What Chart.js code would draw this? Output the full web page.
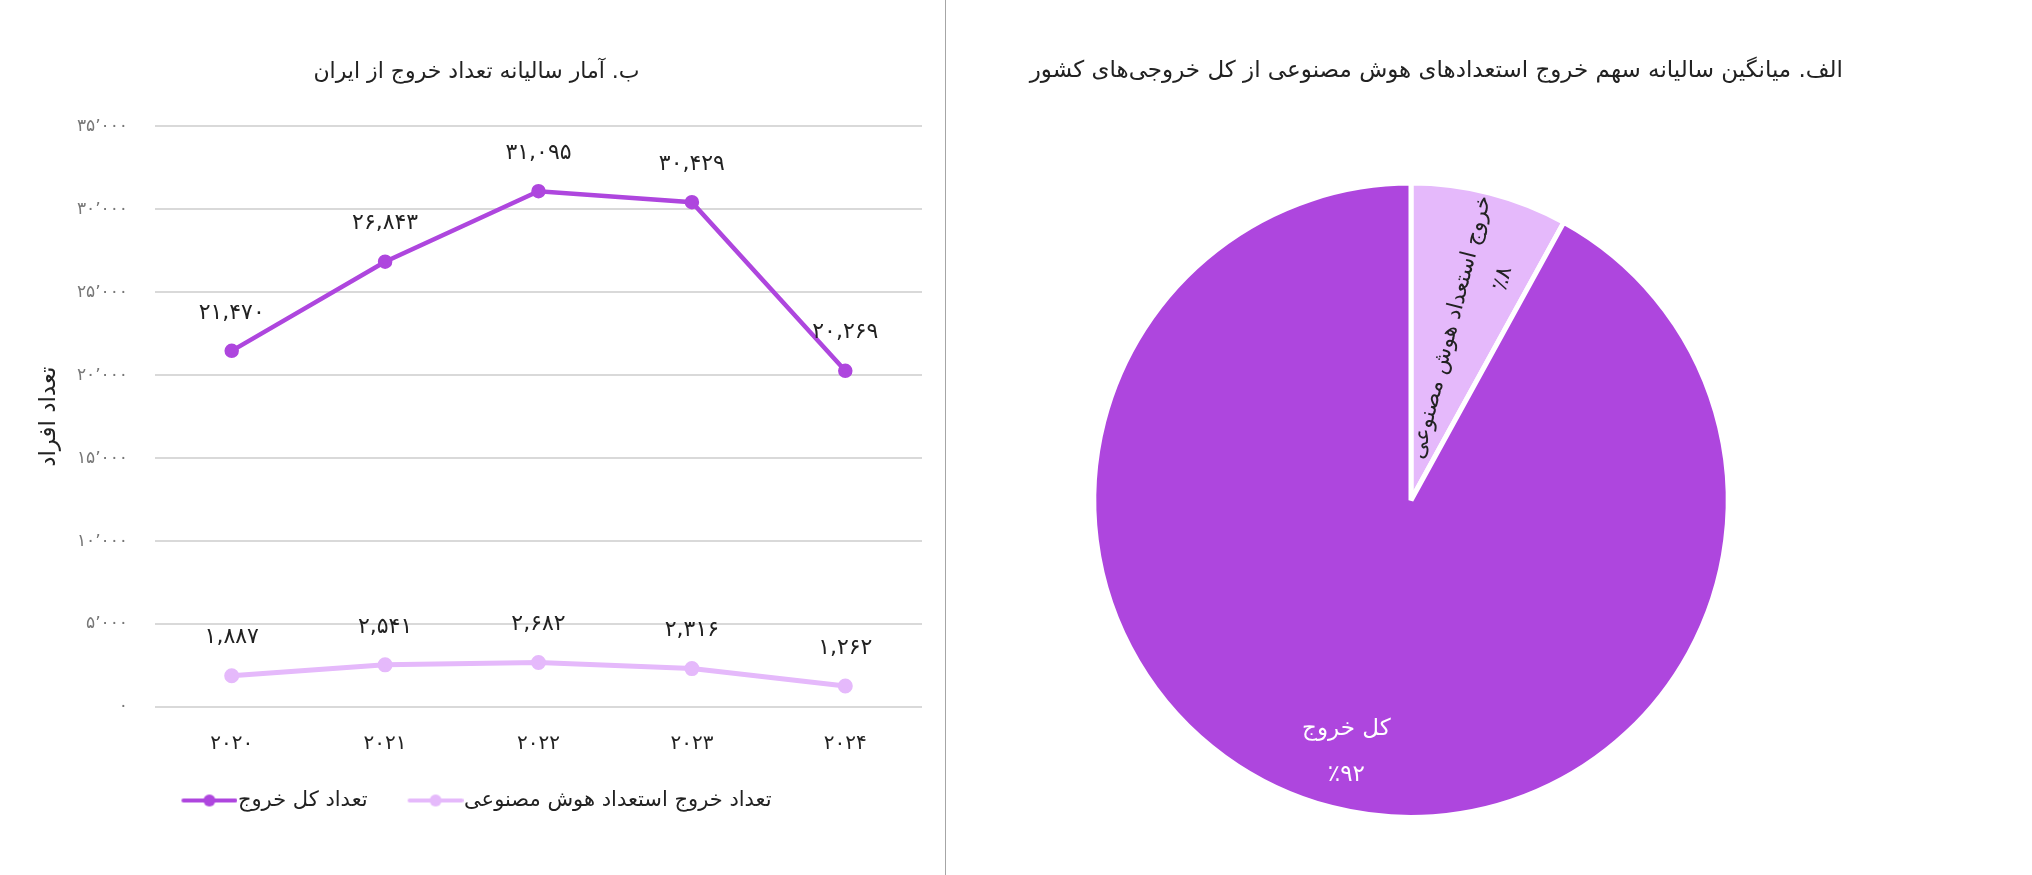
<!DOCTYPE html>
<html lang="fa">
<head>
<meta charset="utf-8">
<title>خروج استعدادها</title>
<script src="https://cdn.jsdelivr.net/npm/chart.js@4.4.1/dist/chart.umd.min.js"></script>
<style>
  html, body { margin: 0; padding: 0; background: #fff; }
  body { width: 2032px; height: 875px; position: relative; overflow: hidden; }
  #lineBox { position: absolute; left: 0; top: 0; width: 945px; height: 875px; }
  #divider { position: absolute; left: 945px; top: 0; width: 1px; height: 875px; background: #a6a6a6; }
  #pieBox { position: absolute; left: 946px; top: 0; width: 1086px; height: 875px; }
</style>
</head>
<body>
<div id="lineBox"><canvas id="lineChart"></canvas></div>
<div id="divider"></div>
<div id="pieBox"><canvas id="pieChart"></canvas></div>
<script>
// data
const years = ['۲۰۲۰', '۲۰۲۱', '۲۰۲۲', '۲۰۲۳', '۲۰۲۴'];
const totalExits = [21470, 26843, 31095, 30429, 20269];
const aiExits = [1887, 2541, 2682, 2316, 1262];
const seriesNames = ['تعداد کل خروج', 'تعداد خروج استعداد هوش مصنوعی'];
const yMax = 35000;
const yStep = 5000;
const yTitle = 'تعداد افراد';
const lineTitle = 'ب. آمار سالیانه تعداد خروج از ایران';

const pieLabels = ['خروج استعداد هوش مصنوعی', 'کل خروج'];
const pieShares = [8, 92];
const pieTitle = 'الف. میانگین سالیانه سهم خروج استعدادهای هوش مصنوعی از کل خروجی‌های کشور';

const DARK = '#ae46de';
const LIGHT = '#e5b9fb';
const FONT = '"DejaVu Sans", sans-serif';

Chart.defaults.font.family = FONT;
Chart.defaults.color = '#222';

function faDigits(s) {
  return String(s).replace(/\d/g, d => '۰۱۲۳۴۵۶۷۸۹'[d]);
}
function faNumber(n, sep) {
  return faDigits(Number(n).toLocaleString('en-US')).replace(/,/g, sep);
}

function legendMarker(color) {
  const c = document.createElement('canvas');
  c.width = 66;
  c.height = 14;
  const g = c.getContext('2d');
  g.strokeStyle = color;
  g.lineWidth = 4;
  g.lineCap = 'round';
  g.beginPath();
  g.moveTo(12, 7);
  g.lineTo(64, 7);
  g.stroke();
  g.fillStyle = color;
  g.beginPath();
  g.arc(38, 7, 6, 0, Math.PI * 2);
  g.fill();
  return c;
}
const markers = [legendMarker(DARK), legendMarker(LIGHT)];

const pointLabels = {
  id: 'pointLabels',
  afterDatasetsDraw(chart) {
    const ctx = chart.ctx;
    ctx.save();
    ctx.font = '22px ' + FONT;
    ctx.fillStyle = '#222';
    ctx.textAlign = 'center';
    ctx.textBaseline = 'middle';
    chart.data.datasets.forEach((ds, di) => {
      chart.getDatasetMeta(di).data.forEach((pt, i) => {
        ctx.fillText(faNumber(ds.data[i], ','), pt.x, pt.y - 38);
      });
    });
    ctx.restore();
  }
};

const sliceLabels = {
  id: 'sliceLabels',
  afterDatasetsDraw(chart) {
    const ctx = chart.ctx;
    const arcs = chart.getDatasetMeta(0).data;
    arcs.forEach((arc, i) => {
      const mid = (arc.startAngle + arc.endAngle) / 2;
      const r = arc.outerRadius;
      const pct = '٪' + faDigits(pieShares[i]);
      ctx.save();
      ctx.textAlign = 'center';
      ctx.textBaseline = 'middle';
      if (i === 0) {
        // thin slice: text runs along the slice
        ctx.font = '22px ' + FONT;
        ctx.translate(arc.x, arc.y);
        ctx.rotate(mid);
        ctx.fillStyle = '#222';
        ctx.fillText(pieLabels[i], r * 0.56, -4);
        ctx.fillText(pct, r * 0.56 + 60, 34);
      } else {
        ctx.font = '23px ' + FONT;
        const cx = arc.x + Math.cos(mid) * r * 0.82;
        const cy = arc.y + Math.sin(mid) * r * 0.82;
        ctx.fillStyle = '#fff';
        ctx.fillText(pieLabels[i], cx, cy - 23);
        ctx.fillText(pct, cx, cy + 23);
      }
      ctx.restore();
    });
  }
};

new Chart(document.getElementById('lineChart'), {
  type: 'line',
  data: {
    labels: years,
    datasets: [
      {
        label: seriesNames[0],
        data: totalExits,
        borderColor: DARK,
        backgroundColor: DARK,
        borderWidth: 4.5,
        pointRadius: 5,
        tension: 0
      },
      {
        label: seriesNames[1],
        data: aiExits,
        borderColor: LIGHT,
        backgroundColor: LIGHT,
        borderWidth: 5,
        pointRadius: 5,
        tension: 0
      }
    ]
  },
  options: {
    responsive: true,
    maintainAspectRatio: false,
    animation: false,
    layout: { padding: { left: 31, right: 23, top: 0, bottom: 54 } },
    plugins: {
      title: {
        display: true,
        text: lineTitle,
        color: '#222',
        font: { size: 22, weight: 'normal' },
        padding: { top: 59, bottom: 41 }
      },
      legend: {
        position: 'bottom',
        labels: {
          usePointStyle: true,
          pointStyleWidth: 46,
          padding: 40,
          color: '#222',
          font: { size: 21 },
          generateLabels(chart) {
            const items = Chart.defaults.plugins.legend.labels.generateLabels(chart);
            items.forEach((it, i) => { it.pointStyle = markers[i]; });
            return items;
          }
        }
      },
      tooltip: { enabled: false }
    },
    scales: {
      x: {
        offset: true,
        grid: { display: false },
        border: { display: false },
        ticks: { padding: 17, color: '#222', font: { size: 20 } },
        afterFit(scale) { scale.height = 43; }
      },
      y: {
        min: 0,
        max: yMax,
        grid: { color: '#d9d9d9', lineWidth: 2, drawTicks: false },
        border: { display: false },
        ticks: {
          stepSize: yStep,
          padding: 27,
          color: '#777',
          font: { size: 17 },
          callback: v => faNumber(v, '٬')
        },
        title: { display: true, text: yTitle, color: '#222', font: { size: 23 } },
        afterFit(scale) { scale.width = 124; }
      }
    }
  },
  plugins: [pointLabels]
});

new Chart(document.getElementById('pieChart'), {
  type: 'pie',
  data: {
    labels: pieLabels,
    datasets: [{
      data: pieShares,
      backgroundColor: [LIGHT, DARK],
      borderColor: '#fff',
      borderWidth: 5,
      hoverOffset: 0
    }]
  },
  options: {
    responsive: true,
    maintainAspectRatio: false,
    animation: false,
    layout: { padding: { left: 33, right: 189, top: 0, bottom: 55 } },
    plugins: {
      title: {
        display: true,
        text: pieTitle,
        align: 'end',
        color: '#222',
        font: { size: 23, weight: 'normal' },
        padding: { top: 57, bottom: 96 }
      },
      legend: { display: false },
      tooltip: { enabled: false }
    }
  },
  plugins: [sliceLabels]
});
</script>
</body>
</html>
